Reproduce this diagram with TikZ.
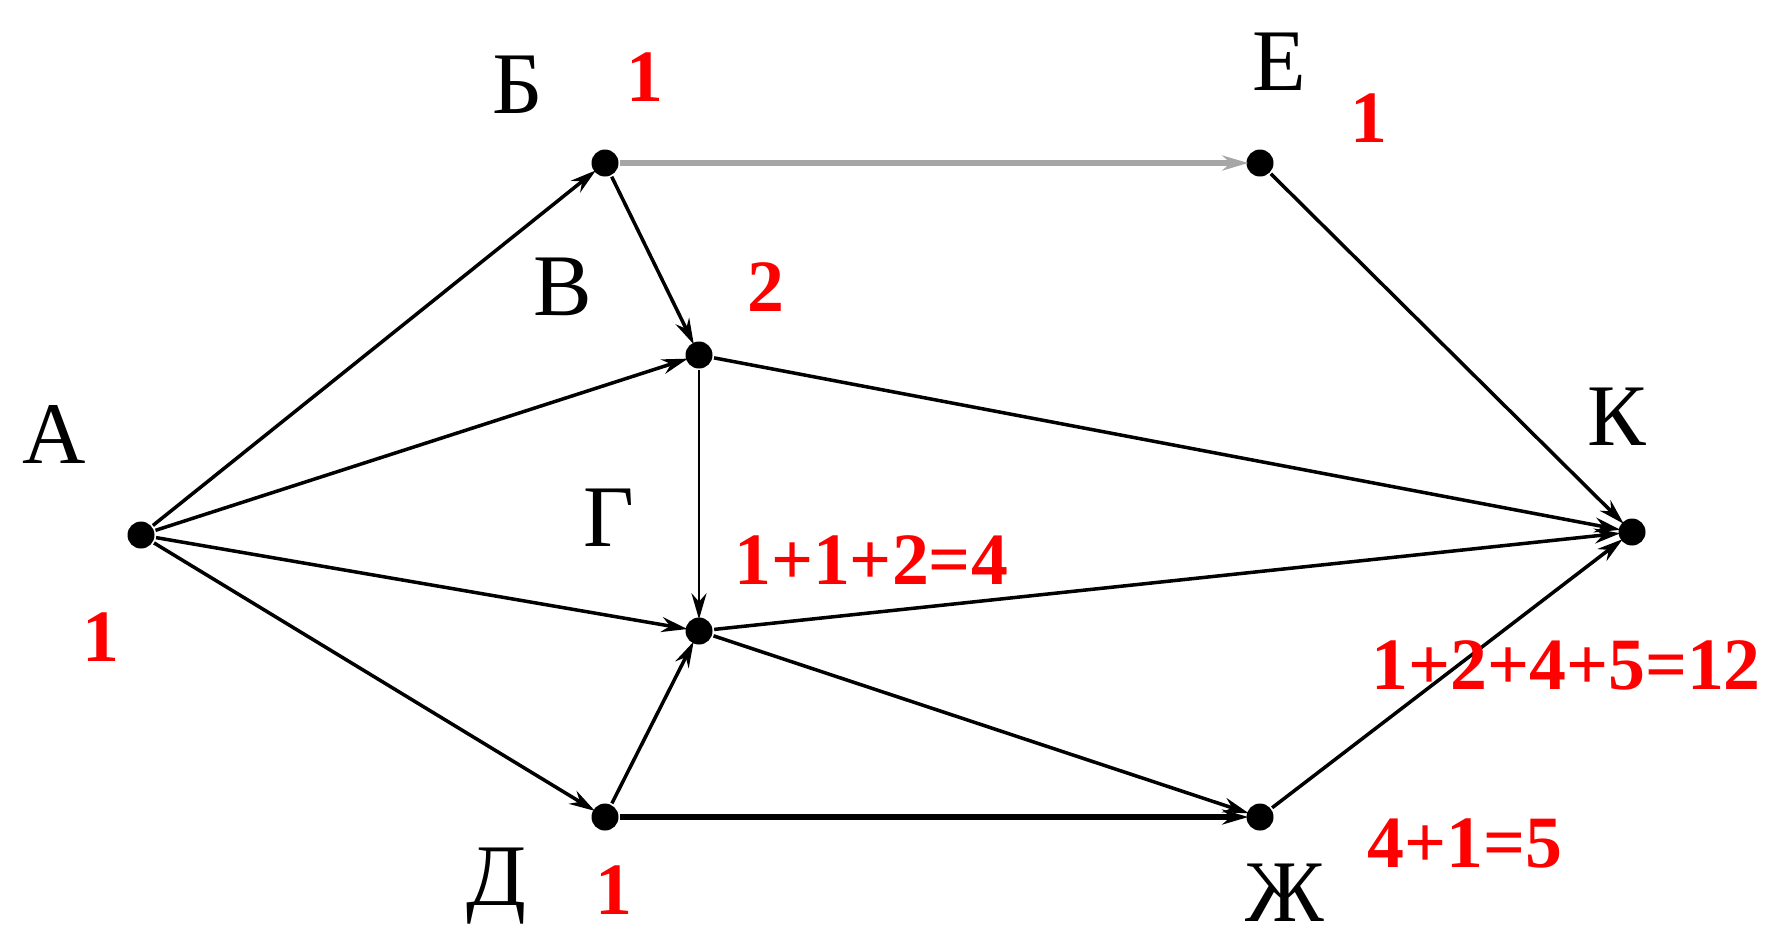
\documentclass[tikz,border=0pt]{standalone}
\usepackage{fontspec}
\setmainfont{Liberation Serif}
\newfontfamily\cntfont{Liberation Serif Bold}
\usepackage{tikz}
\usetikzlibrary{arrows.meta}

\begin{document}
\begin{tikzpicture}[line width=1pt,
        vertex/.style={circle, fill=black, inner sep=0pt, minimum size=0.27cm},
        letter/.style={font=\fontsize{25}{25}\selectfont},
        cnt/.style={text=red, font=\cntfont\fontsize{21}{21}\selectfont},
        edge/.style={-{Stealth[length=0.26cm, width=0.15cm]}, shorten >=-1pt}]
        \useasboundingbox (0,0) rectangle (17.67,-9.40);
        
        % The vertices
        \node[vertex] (A) at (1.41,-5.35) {};
        \node[vertex] (B) at (6.05,-1.63) {};
        \node[vertex] (E) at (12.60,-1.63) {};
        \node[vertex] (V) at (6.99,-3.55) {};
        \node[vertex] (G) at (6.99,-6.31) {};
        \node[vertex] (D) at (6.05,-8.17) {};
        \node[vertex] (Zh) at (12.60,-8.17) {};
        \node[vertex] (K) at (16.32,-5.32) {};
        
        % Vertex names
        \node[letter] (nA) at (0.54,-4.34) {А};
        \node[letter] (nB) at (5.18,-0.85) {Б};
        \node[letter] (nE) at (12.79,-0.62) {Е};
        \node[letter] (nV) at (5.63,-2.87) {В};
        \node[letter] (nG) at (6.09,-5.18) {Г};
        \node[letter] (nD) at (4.96,-8.86) {Д};
        \node[letter] (nZh) at (12.85,-8.93) {Ж};
        \node[letter] (nK) at (16.17,-4.17) {К};
        
        % The edges
        \draw[edge] (A) -- (B);
        \draw[edge] (A) -- (V);
        \draw[edge] (A) -- (G);
        \draw[edge] (A) -- (D);
        \draw[edge] (B) -- (V);
        \draw[edge, gray!70, line width=1.6pt] (B) -- (E);
        \draw[edge, line width=0.8pt] (V) -- (G);
        \draw[edge] (V) -- (K);
        \draw[edge] (G) -- (K);
        \draw[edge] (G) -- (Zh);
        \draw[edge] (D) -- (G);
        \draw[edge, line width=1.5pt] (D) -- (Zh);
        \draw[edge] (E) -- (K);
        \draw[edge] (Zh) -- (K);
        
        % Path counts
        \node[cnt] (cA) at (1.01,-6.37) {1};
        \node[cnt] (cB) at (6.45,-0.77) {1};
        \node[cnt] (cE) at (13.69,-1.18) {1};
        \node[cnt] (cV) at (7.66,-2.87) {2};
        \node[cnt] (cG) at (8.71,-5.60) {1+1+2=4};
        \node[cnt] (cK) at (15.66,-6.65) {1+2+4+5=12};
        \node[cnt] (cZh) at (14.65,-8.43) {4+1=5};
        \node[cnt] (cD) at (6.14,-8.90) {1};
        
    \end{tikzpicture}
\end{document}
